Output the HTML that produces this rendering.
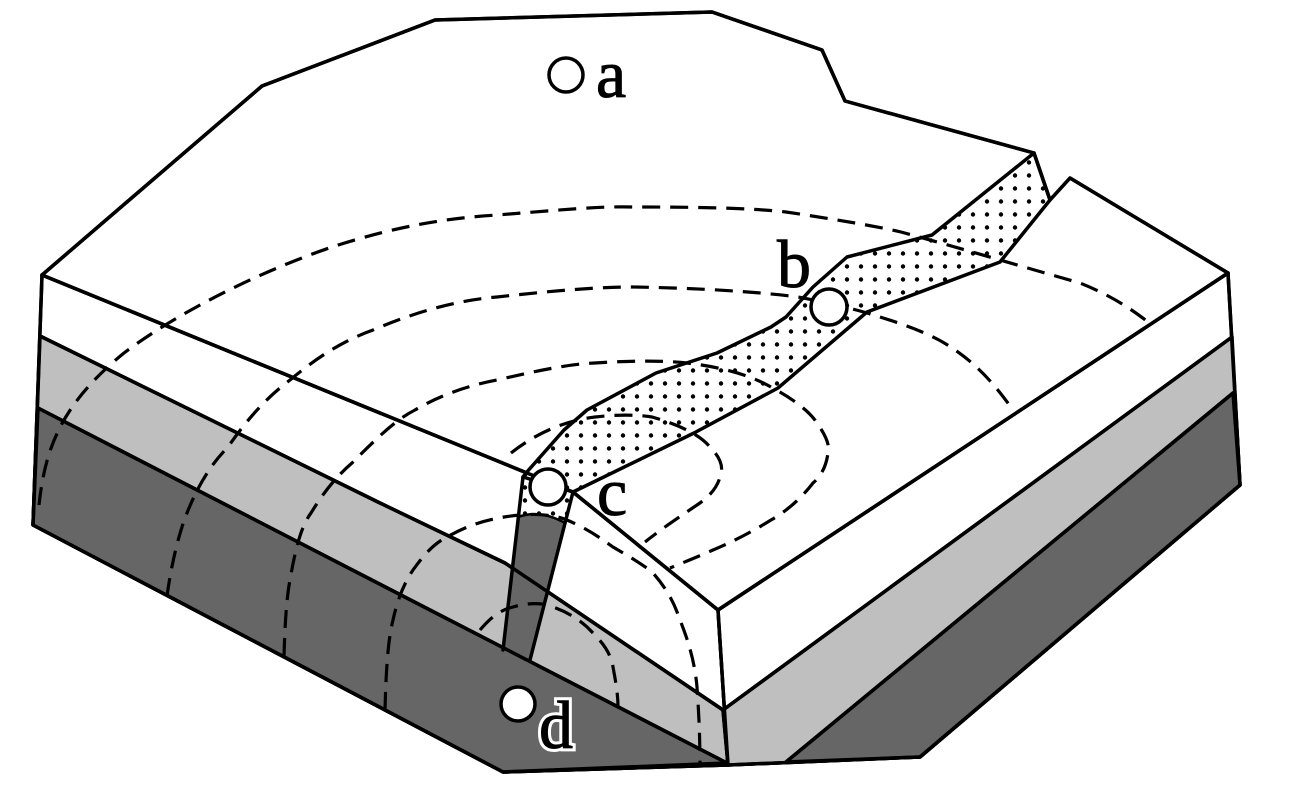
<!DOCTYPE html>
<html><head><meta charset="utf-8"><style>
html,body{margin:0;padding:0;background:#fff}
svg{display:block}
text{font-family:"Liberation Serif","Times New Roman",serif;}
</style></head><body>
<svg width="1299" height="788" viewBox="0 0 1299 788" xmlns="http://www.w3.org/2000/svg">
<defs>
<pattern id="dots" width="14" height="13" patternUnits="userSpaceOnUse">
<circle cx="7" cy="6.5" r="2.2" fill="#000"/>
</pattern>
</defs>
<g stroke="#000" stroke-width="3.5" stroke-linejoin="round" fill="none">
<polygon points="42,275 527,473 523,477 573,492 718,610 728,765 503,772 33,525" fill="#fff"/>
<polygon points="40,336 380,503 505,563 723,710 728,765 503,772 33,525" fill="#bfbfbf"/>
<polygon points="38,408 727,763 503,772 33,525" fill="#666"/>
<polygon points="718,610 1228,273 1240,485 920,757 728,765" fill="#fff"/>
<polygon points="723,710 1232,337 1240,485 920,757 728,765" fill="#bfbfbf"/>
<polygon points="786,762 1233,393 1240,485 920,757" fill="#666"/>
<polygon points="42,275 262,86 435,20 712,12 822,50 845,101 1034,153 1050,200 1070,178 1228,273 718,610 573,492 527,473" fill="#fff"/>
<polygon points="1034,153 932,235 847,257 813,287 786,317 771,327 717,353 656,373 587,410 564,430 526,473 523,477 573,492 694,433 778,388 867,312 1000,262 1050,200" fill="url(#dots)" stroke="none"/>
<polygon points="523,477 573,492 565,523 518,517" fill="url(#dots)" stroke="none"/>
<path d="M518,517 Q540,509 565,523 L530,660 L503,650 Z" fill="#666" stroke="none"/>
</g>
<g stroke="#000" stroke-width="3.2" fill="none" stroke-dasharray="18,10">
<path d="M39,505 C45,450 60,405 124,353 C170,318 250,275 332,247 C400,225 450,218 497,215 C560,210 600,206 633,207 C700,207 750,208 786,212 C840,220 880,227 901,232 C960,248 1020,266 1080,283 C1110,295 1130,308 1148,322"/>
<path d="M167,596 C172,560 180,530 187,513 C200,480 215,460 228,447 C250,415 270,395 290,380 C320,355 345,340 373,330 C420,310 460,300 497,297 C560,290 600,287 633,287 C700,288 760,292 798,297 C830,303 850,308 867,313 C900,323 920,330 939,340 C975,360 995,385 1013,410"/>
<path d="M284,656 C285,620 287,595 290,580 C296,545 302,525 311,513 C325,490 338,475 352,463 C375,440 395,420 415,410 C440,395 470,385 497,380 C540,370 570,364 595,363 C640,360 670,361 687,363 C730,368 755,378 771,387 C795,400 810,412 817,423 C826,436 830,445 828,453 C826,468 820,477 813,483 C800,500 785,512 771,520 C750,533 730,543 713,550 C695,558 682,563 670,568"/>
<path d="M511,453 C540,430 570,420 595,417 C620,414 640,415 652,417 C680,425 700,435 710,447 C720,457 723,466 721,473 C718,490 705,500 694,507 C675,520 660,530 645,542"/>
<path d="M385,710 C386,670 388,640 393,620 C398,597 405,582 413,570 C425,553 435,543 447,537 C470,524 490,518 520,515 C545,513 560,517 567,520 C590,530 600,538 613,547 C635,560 645,566 653,573 C668,590 675,605 680,620 C690,645 695,665 697,687 C699,715 700,740 700,765"/>
<path d="M480,630 C490,618 500,610 513,607 C530,602 545,603 553,607 C570,613 583,622 593,633 C605,645 611,655 613,667 C616,683 618,695 618,707"/>
</g>
<g stroke="#000" stroke-width="3.5" fill="none" stroke-linejoin="round" stroke-linecap="round">
<polyline points="42,275 262,86 435,20 712,12 822,50 845,101 1034,153 1050,200 1070,178 1228,273 1240,485 920,757 728,765 503,772 33,525 42,275"/>
<polyline points="42,275 527,473"/>
<polyline points="1034,153 932,235 847,257 813,287 786,317 771,327 717,353 656,373 587,410 564,430 526,473 523,477 503,650"/>
<polyline points="1050,200 1000,262 867,312 778,388 694,433 573,492 530,660"/>
<polyline points="573,492 718,610 728,765"/>
<polyline points="718,610 1228,273"/>
<polyline points="40,336 380,503 505,563 723,710 1232,337"/>
<polyline points="38,408 727,763"/>
<polyline points="786,762 1233,393"/>
<path d="M518,517 Q540,509 565,523" stroke-width="2.5"/>
</g>
<g stroke="#000" stroke-width="3.5" fill="#fff">
<circle cx="566" cy="75" r="17"/>
<circle cx="829" cy="307" r="18"/>
<circle cx="548" cy="487" r="18"/>
<circle cx="518" cy="704" r="17"/>
</g>
<g font-size="68" fill="#000" stroke="#000" stroke-width="1">
<text x="596" y="97">a</text>
<text x="777" y="287">b</text>
<text x="597" y="515">c</text>
</g>
<text x="539" y="748" font-size="68" fill="#000" stroke="#fff" stroke-width="7" paint-order="stroke">d</text>
<text x="539" y="748" font-size="68" fill="#000" stroke="#000" stroke-width="1">d</text>
</svg>
</body></html>
